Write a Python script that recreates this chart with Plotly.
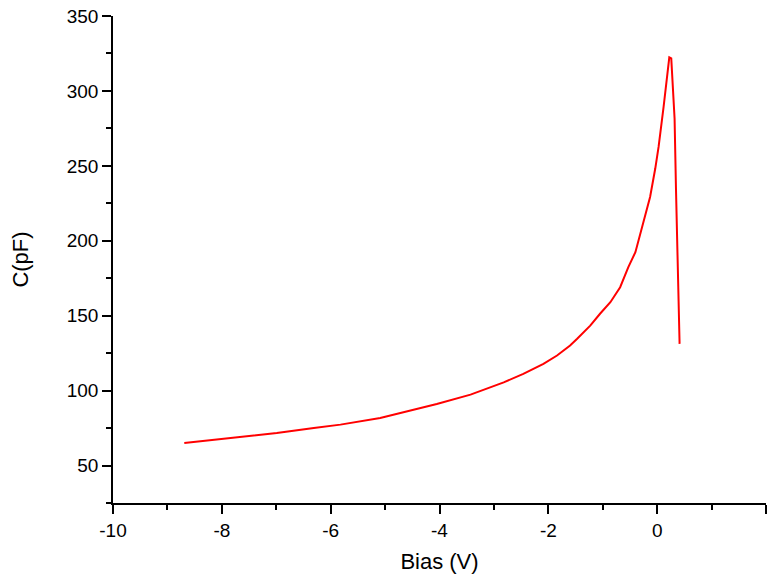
import plotly.graph_objects as go

# Bias voltage (V) and capacitance (pF)
bias_v = [-8.69, -8.15, -7.54, -6.99, -6.31, -5.82, -5.09, -4.66, -4.05, -3.43,
          -2.82, -2.46, -2.09, -1.84, -1.60, -1.47, -1.23, -1.05, -0.86, -0.68,
          -0.53, -0.40, -0.34, -0.25, -0.13, -0.035, 0.026, 0.118, 0.223, 0.259,
          0.320, 0.345, 0.382, 0.412]
cap_pf = [65.0, 67.2, 69.5, 71.7, 75.1, 77.3, 81.7, 85.5, 91.1, 97.3,
          105.5, 111.2, 117.8, 123.4, 130.1, 134.6, 143.4, 151.3, 159.0, 169.0,
          182.4, 192.4, 200.3, 212.5, 229.2, 248.2, 262.6, 289.4, 322.4, 321.7,
          281.6, 235.9, 164.6, 131.2]

x_ticks = [-10, -8, -6, -4, -2, 0, 2]
x_tick_labels = ["-10", "-8", "-6", "-4", "-2", "0", "2"]
y_ticks = [50, 100, 150, 200, 250, 300, 350]
y_tick_labels = ["50", "100", "150", "200", "250", "300", "350"]

font_family = "Liberation Sans, Arial, sans-serif"

fig = go.Figure()
fig.add_trace(go.Scatter(
    x=bias_v, y=cap_pf, mode="lines",
    line=dict(color="#FF0000", width=2),
    showlegend=False,
))

axis_common = dict(
    showgrid=False, zeroline=False, showline=True, linecolor="black", linewidth=1.6,
    ticks="outside", ticklen=9, tickwidth=1.6, tickcolor="black",
    tickfont=dict(family=font_family, size=19, color="black"),
    automargin=False,
)

fig.update_layout(
    width=771, height=580,
    margin=dict(l=113, r=5, t=16, b=77),
    paper_bgcolor="white", plot_bgcolor="white",
    font=dict(family=font_family, color="black"),
    xaxis=dict(
        range=[-10, 2], tickvals=x_ticks, ticktext=x_tick_labels,
        minor=dict(ticks="outside", ticklen=5, tickwidth=1.6, tickcolor="black", dtick=1, tick0=-10),
        title=dict(text="Bias (V)", font=dict(family=font_family, size=22, color="black"), standoff=14),
        **axis_common,
    ),
    yaxis=dict(
        range=[25, 350], tickvals=y_ticks, ticktext=y_tick_labels,
        minor=dict(ticks="outside", ticklen=5, tickwidth=1.6, tickcolor="black", dtick=25, tick0=25),
        title=dict(text="C(pF)", font=dict(family=font_family, size=22, color="black"), standoff=32),
        **axis_common,
    ),
)

fig.write_html("out.html")
